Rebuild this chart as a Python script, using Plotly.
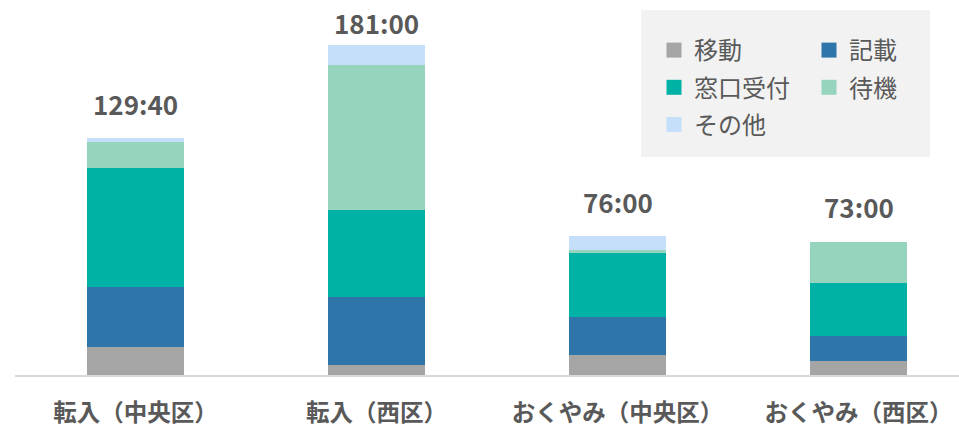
import plotly.graph_objects as go

categories = ["転入（中央区）", "転入（西区）", "おくやみ（中央区）", "おくやみ（西区）"]
series_names = ["移動", "記載", "窓口受付", "待機", "その他"]
idou = [15.3, 5.6, 11.0, 7.5]
kisai = [32.7, 37.1, 21.0, 14.0]
madoguchi = [65.5, 47.6, 35.0, 29.1]
taiki = [14.2, 79.4, 1.7, 22.4]
sonota = [2.0, 11.3, 7.3, 0.0]
total_labels = ["129:40", "181:00", "76:00", "73:00"]

colors = ["#A5A5A5", "#2E75A9", "#00B2A5", "#96D4BE", "#C5DFFA"]
series_values = [idou, kisai, madoguchi, taiki, sonota]

FONT = "Noto Sans CJK JP"
TXT = "#595959"

W, H = 959, 426
ML, MR, MT, MB = 15, 0, 10, 51
PW = W - ML - MR
PH = H - MT - MB

def px_x(p):
    return (p - ML) / PW

def px_y(p):
    return (H - MB - p) / PH

fig = go.Figure()
xs = list(range(len(categories)))
for name, vals, col in zip(series_names, series_values, colors):
    fig.add_trace(go.Bar(
        x=xs, y=vals, name=name, width=0.4,
        marker=dict(color=col, line=dict(width=0)),
        showlegend=False, hoverinfo="skip",
    ))

# legend entries (two columns)
legend_of = ["legend", "legend2", "legend", "legend2", "legend"]
for name, col, lg in zip(series_names, colors, legend_of):
    fig.add_trace(go.Scatter(
        x=[None], y=[None], mode="markers", name=name,
        marker=dict(symbol="square", size=15, color=col),
        legend=lg, legendgroup=name, showlegend=True,
    ))

totals = [sum(v) for v in zip(*series_values)]
shifts = [35, 22, 35, 35]
for i, (t, lab) in enumerate(zip(totals, total_labels)):
    fig.add_annotation(
        x=i, y=t, text=f"<b>{lab}</b>", showarrow=False,
        yanchor="middle", yshift=shifts[i],
        font=dict(family=FONT, size=26, color=TXT),
    )

# legend background
fig.add_shape(type="rect", xref="paper", yref="paper",
              x0=px_x(641), x1=px_x(930), y0=px_y(157), y1=px_y(10),
              fillcolor="#F2F2F2", line=dict(width=0), layer="below")

legend_common = dict(
    orientation="v", bgcolor="rgba(0,0,0,0)", traceorder="grouped",
    tracegroupgap=3, font=dict(family=FONT, size=24, color=TXT),
    xanchor="left", yanchor="top", itemclick=False,
)

# category spacing 241 px, first centre at 135.5 px
x_lo = -(135.5 - ML) / 241
x_hi = x_lo + PW / 241

fig.update_layout(
    width=W, height=H,
    margin=dict(l=ML, r=MR, t=MT, b=MB, autoexpand=False),
    paper_bgcolor="white", plot_bgcolor="white",
    barmode="stack",
    font=dict(family=FONT, color=TXT),
    legend=dict(x=px_x(654), y=px_y(28), **legend_common),
    legend2=dict(x=px_x(809), y=px_y(28), **legend_common),
    xaxis=dict(
        tickvals=xs, ticktext=[f"<b>{c}</b>" for c in categories],
        range=[x_lo, x_hi], automargin=False,
        showgrid=False, zeroline=False,
        showline=True, linecolor="#D9D9D9", linewidth=2,
        ticks="", ticklabelstandoff=16,
        tickfont=dict(family=FONT, size=23.5, color=TXT),
        fixedrange=True,
    ),
    yaxis=dict(range=[0, 200], visible=False, fixedrange=True, automargin=False),
    showlegend=True,
)

fig.write_html("out.html", config={"displayModeBar": False},
               post_script="document.body.style.margin='0';")
